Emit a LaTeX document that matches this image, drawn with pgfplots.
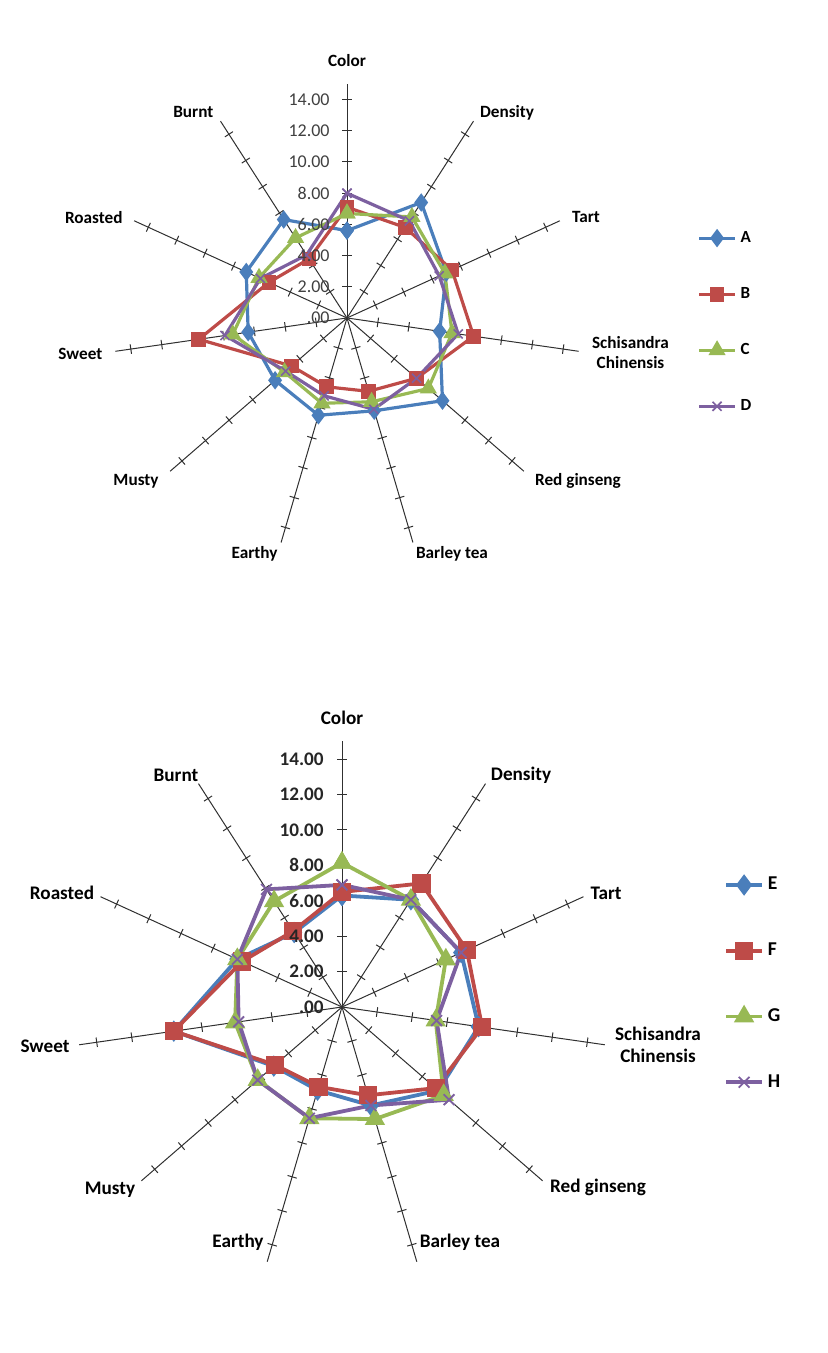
\documentclass[border=0pt]{standalone}
\usepackage{fontspec}
\setmainfont{Carlito}
\usepackage{pgfplots}
\usepackage{pgfplotstable}
\pgfplotsset{compat=1.18}
\usepgfplotslibrary{polar}
\usetikzlibrary{calc}

\definecolor{serA}{HTML}{4A7EBB}
\definecolor{serB}{HTML}{BE4B48}
\definecolor{serC}{HTML}{98B954}
\definecolor{serD}{HTML}{7D60A0}
\definecolor{spokecol}{HTML}{303030}
\definecolor{ticktext}{HTML}{404040}

\pgfdeclarelayer{bg}
\pgfsetlayers{bg,main}

% k = position of the category, clockwise from Color
\pgfplotstableread{
k   A    B    C    D
0   5.6  7.1  6.7  8.0
1   8.8  6.9  7.7  7.4
2   7.0  7.4  6.9  6.5
3   6.0  8.2  6.8  7.2
4   8.1  5.9  6.9  5.9
5   6.2  4.9  5.6  6.1
6   6.5  4.6  5.7  5.2
7   6.1  4.7  5.3  5.2
8   6.4  9.6  7.4  7.9
9   7.1  5.5  6.2  6.1
10  7.5  4.5  6.1  4.8
11  5.6  7.1  6.7  8.0
}\toptable

\pgfplotstableread{
k   E    F    G     H
0   6.3  6.5  8.15  6.9
1   7.2  8.3  7.2   7.2
2   7.4  7.75 6.45  7.4
3   7.8  8.0  5.35  5.4
4   7.2  7.0  7.6   8.0
5   5.8  5.2  6.6   5.8
6   4.9  4.7  6.55  6.55
7   5.1  5.0  6.3   6.3
8   9.6  9.6  6.1   5.9
9   6.5  6.2  6.5   6.5
10  5.0  5.1  7.1   7.9
11  6.3  6.5  8.15  6.9
}\bottable

\pgfplotsset{
  radar/.style={
    scale only axis, hide axis, clip=false,
    ymin=0, ymax=15,
    legend image code/.code={
      \draw[##1, mark repeat=2, mark phase=2] plot coordinates {(0pt,0pt) (9pt,0pt) (18pt,0pt)};
    },
  },
  table/catx/.style={x expr={mod(450-\thisrow{k}*360/11,360)}},
}
\tikzset{spoke/.style={spokecol, line width=0.5pt}}

% #1 centre, #2 point at radius 15 on the Color spoke, #3 tick label font, #4 label colour, #5 gap
\newcommand{\radargrid}[5]{%
  \path let \p1 = ($(#2)-(#1)$) in \pgfextra{\pgfmathsetmacro{\Rr}{\y1}\global\let\Rr\Rr};
  \begin{pgfonlayer}{bg}
  \foreach \k in {0,...,10} {
    \pgfmathsetmacro{\a}{90-\k*360/11}
    \draw[spoke] (#1) -- ++(\a:{\Rr*1pt});
    \foreach \r in {2,4,...,14} {
      \draw[spoke] ([shift={(\a:{\r*\Rr/15*1pt})}]#1) ++(\a+90:2.4pt) -- ++(\a-90:4.8pt);
    }
  }
  \end{pgfonlayer}
  \foreach \r in {2,4,...,14} {
    \node[anchor=east, inner sep=0pt, text=#4, font=#3]
      at ([shift={(-#5,{\r*\Rr/15*1pt})}]#1) {\r.00};
  }
  \node[anchor=east, inner sep=0pt, text=#4, font=#3] at ([shift={(-#5,0pt)}]#1) {.00};
}

\begin{document}
\begin{tikzpicture}[x=0.5pt, y=0.5pt]
\path (0pt,0pt) rectangle (413.5pt,676.5pt);

% ---------- top chart ----------
\begin{polaraxis}[radar,
    at={(173.5pt,517.5pt)}, anchor=center,
    width=234pt, height=234pt,
    legend style={at={(axis description cs:1.248,0.491)}, anchor=west,
      draw=none, fill=none, inner sep=0pt, row sep=17pt,
      font=\bfseries\fontsize{8.5}{9}\selectfont},
    legend cell align=left,
  ]
  \coordinate (O1) at (axis cs:0,0);
  \coordinate (T1) at (axis cs:90,15);
  \addplot[serA, line width=1.6pt, mark=diamond*, mark size=3.3pt] table[catx, y=A] {\toptable};
  \addlegendentry{A}
  \addplot[serB, line width=1.6pt, mark=square*, mark size=2.9pt] table[catx, y=B] {\toptable};
  \addlegendentry{B}
  \addplot[serC, line width=1.6pt, mark=triangle*, mark size=3.4pt] table[catx, y=C] {\toptable};
  \addlegendentry{C}
  \addplot[serD, line width=1.6pt, mark=x, mark size=3.2pt, mark options={line width=0.8pt}] table[catx, y=D] {\toptable};
  \addlegendentry{D}
\end{polaraxis}
\radargrid{O1}{T1}{\fontsize{9}{9}\selectfont}{ticktext}{8.5pt}

\begin{scope}[font=\bfseries\fontsize{8.6}{10}\selectfont]
  \node at (347,1292) {Color};
  \node at (507,1240.5) {Density};
  \node at (586,1136) {Tart};
  \node[align=center] at (630.5,1000) {Schisandra\\Chinensis};
  \node at (578,872) {Red ginseng};
  \node at (452,799) {Barley tea};
  \node at (254.5,799) {Earthy};
  \node at (136,872) {Musty};
  \node at (80.4,999) {Sweet};
  \node at (93.8,1135.5) {Roasted};
  \node at (193.3,1240.5) {Burnt};
\end{scope}

% ---------- bottom chart ----------
\begin{polaraxis}[radar,
    at={(171pt,173pt)}, anchor=center,
    width=265.5pt, height=265.5pt,
    legend style={at={(axis description cs:1.219,0.544)}, anchor=west,
      draw=none, fill=none, inner sep=0pt, row sep=21pt,
      font=\bfseries\fontsize{9.8}{10}\selectfont},
    legend cell align=left,
  ]
  \coordinate (O2) at (axis cs:0,0);
  \coordinate (T2) at (axis cs:90,15);
  \addplot[serA, line width=1.9pt, mark=diamond*, mark size=3.8pt] table[catx, y=E] {\bottable};
  \addlegendentry{E}
  \addplot[serB, line width=1.9pt, mark=square*, mark size=3.6pt] table[catx, y=F] {\bottable};
  \addlegendentry{F}
  \addplot[serC, line width=1.9pt, mark=triangle*, mark size=4pt] table[catx, y=G] {\bottable};
  \addlegendentry{G}
  \addplot[serD, line width=1.9pt, mark=x, mark size=3.8pt, mark options={line width=0.9pt}] table[catx, y=H] {\bottable};
  \addlegendentry{H}
\end{polaraxis}
\radargrid{O2}{T2}{\bfseries\fontsize{9.6}{10}\selectfont}{black!85}{9pt}

\begin{scope}[font=\bfseries\fontsize{9.6}{11}\selectfont]
  \node at (342,635) {Color};
  \node at (521,578) {Density};
  \node at (606,460) {Tart};
  \node[align=center] at (658,308) {Schisandra\\Chinensis};
  \node at (598,166) {Red ginseng};
  \node at (460,111) {Barley tea};
  \node at (238,111) {Earthy};
  \node at (110,163) {Musty};
  \node at (45,307) {Sweet};
  \node at (62,460) {Roasted};
  \node at (176,578) {Burnt};
\end{scope}
\end{tikzpicture}
\end{document}
